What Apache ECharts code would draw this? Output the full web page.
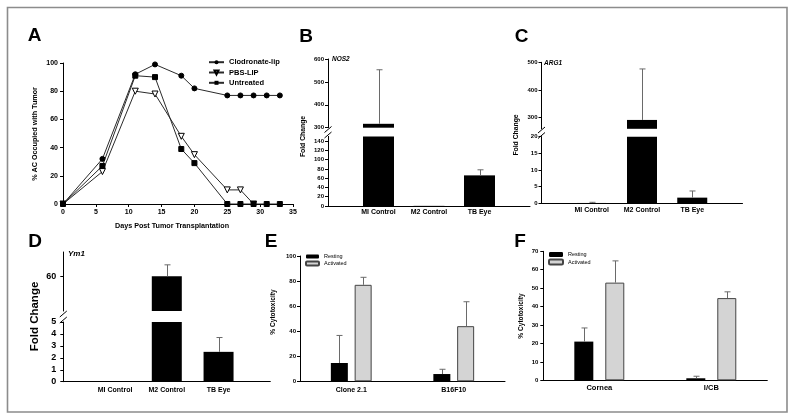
<!DOCTYPE html>
<html><head><meta charset="utf-8">
<script src="https://cdn.jsdelivr.net/npm/echarts@6/dist/echarts.min.js"></script>
<style>html,body{margin:0;padding:0;background:#fff}#c{width:795px;height:420px}</style>
</head><body><div id="c"></div>
<script>
// ---------- DATA ----------
// Panel A
const aDays = [0, 6, 11, 14, 18, 20, 25, 27, 29, 31, 33];
const aClodronate = [0, 32, 92, 99, 91, 82, 77, 77, 77, 77, 77];
const aPBS = [0, 23, 80, 78, 48, 35, 10, 10, 0, null, null];
const aUntreated = [0, 27, 91, 90, 39, 29, 0, 0, 0, 0, 0];
const aSeriesNames = ['Clodronate-lip', 'PBS-LIP', 'Untreated'];
// Panels B-D
const geneCategories = ['MI Control', 'M2 Control', 'TB Eye'];
const bNOS2 = [317, 0.3, 66];
const bNOS2Err = [236, 0, 12];
const cARG1 = [0.1, 292, 1.7];
const cARG1Err = [0.2, 184, 2.0];
const dYm1 = [0.02, 60, 2.5];
const dYm1Err = [0, 3.3, 1.2];
// Panel E
const eCategories = ['Clone 2.1', 'B16F10'];
const eResting = [14.6, 5.8];
const eRestingErr = [22, 3.8];
const eActivated = [77, 44];
const eActivatedErr = [6, 19.5];
// Panel F
const fCategories = ['Cornea', 'I/CB'];
const fResting = [21, 1.1];
const fRestingErr = [7.4, 1.1];
const fActivated = [53, 44.6];
const fActivatedErr = [11.8, 3.4];
// tick labels
const bUpperTicks = [300, 400, 500, 600];
const bLowerTicks = [0, 20, 40, 60, 80, 100, 120, 140];
const cUpperTicks = [300, 400, 500];
const dUpperTicks = [60];

// ---------- HELPERS ----------
const FONT = '"Liberation Sans", Arial, sans-serif';
const pad = a => [null, ...a, null];
const padC = a => ['', ...a, ''];

function yAxis(grid, o) {
  const ax = {
    type: 'value', gridIndex: grid, min: o.min, max: o.max,
    axisLine: {show: true, lineStyle: {color: '#000', width: 1}},
    axisTick: {show: true, length: 3, lineStyle: {color: '#000', width: 1}},
    axisLabel: {fontFamily: FONT, fontWeight: 'bold', fontSize: o.fs || 6, color: '#000', margin: o.margin || 4},
    splitLine: {show: false}
  };
  if (o.interval) ax.interval = o.interval;
  if (o.ticks) {
    ax.axisLabel.customValues = o.ticks;
    ax.axisTick.customValues = o.ticks;
    const t = o.ticks;
    ax.axisLabel.formatter = v => (t.indexOf(v) >= 0 ? String(v) : '');
  }
  return ax;
}
function catAxis(grid, cats, o) {
  return {
    type: 'category', gridIndex: grid, data: cats, boundaryGap: o.bg,
    show: o.show !== false,
    axisLine: {show: true, lineStyle: {color: '#000', width: 1}},
    axisTick: {show: false},
    axisLabel: {interval: 0, fontFamily: FONT, fontWeight: 'bold', fontSize: o.fs || 7, color: '#000', margin: o.margin || 4},
    splitLine: {show: false}
  };
}
function errSeries(grid, vals, errs, offset, idxShift) {
  return {
    type: 'custom', xAxisIndex: grid, yAxisIndex: grid, z: 10, silent: true,
    data: vals.map((v, i) => [i + idxShift, v, v + errs[i]]),
    encode: {x: 0, y: [1, 2]},
    renderItem(params, api) {
      const ci = api.value(0), lo = api.value(1), hi = api.value(2);
      if (!(hi > lo)) return null;
      const cs = params.coordSys;
      const top = cs.y, bot = cs.y + cs.height;
      const pLo = api.coord([ci, lo]), pHi = api.coord([ci, hi]);
      const x = Math.round(pLo[0] + offset) + 0.5;
      const y1 = pLo[1], y2 = pHi[1];
      if (y2 > bot || y1 < top) return null;
      const st = {stroke: '#6a6a6a', lineWidth: 1};
      const ch = [{type: 'line', shape: {x1: x, y1: Math.min(y1, bot), x2: x, y2: Math.max(y2, top)}, style: st}];
      if (y2 >= top) ch.push({type: 'line', shape: {x1: x - 3, y1: y2, x2: x + 3, y2: y2}, style: st});
      return {type: 'group', children: ch};
    }
  };
}
function barS(grid, name, vals, o) {
  return {
    type: 'bar', name: name, xAxisIndex: grid, yAxisIndex: grid, data: vals,
    barWidth: o.w, barGap: o.gap || '30%', clip: true, silent: true,
    itemStyle: {color: o.color || '#000', borderColor: o.border || o.color || '#000', borderWidth: o.bw || 0}
  };
}

// ---------- LAYOUT ----------
const G = [
  {left: 63, top: 63, width: 230, height: 141},        // 0 A
  {left: 328, top: 59, width: 202, height: 68.7},      // 1 B upper
  {left: 328, top: 136.4, width: 202, height: 69.6},   // 2 B lower
  {left: 541.5, top: 62.3, width: 201, height: 66.5},  // 3 C upper
  {left: 541.5, top: 136.7, width: 201, height: 66.6}, // 4 C lower
  {left: 63.3, top: 252, width: 207, height: 59},      // 5 D upper
  {left: 63.3, top: 322, width: 207, height: 59.7},    // 6 D lower
  {left: 300, top: 256, width: 205, height: 125.3},    // 7 E
  {left: 543.3, top: 251.3, width: 224, height: 129}   // 8 F
].map(g => Object.assign({containLabel: false, outerBoundsMode: 'none'}, g));

const gc = padC(geneCategories);

const xAxes = [
  {type: 'value', gridIndex: 0, min: 0, max: 35, interval: 5,
   axisLine: {lineStyle: {color: '#000'}}, axisTick: {length: 3, lineStyle: {color: '#000'}},
   axisLabel: {fontFamily: FONT, fontWeight: 'bold', fontSize: 7, color: '#000', margin: 5}, splitLine: {show: false}},
  catAxis(1, gc, {bg: false, show: false}),
  catAxis(2, gc, {bg: false, fs: 7, margin: 3}),
  catAxis(3, gc, {bg: false, show: false}),
  catAxis(4, gc, {bg: false, fs: 7, margin: 3}),
  catAxis(5, gc, {bg: false, show: false}),
  catAxis(6, gc, {bg: false, fs: 7, margin: 5}),
  catAxis(7, eCategories, {bg: true, fs: 7, margin: 5}),
  catAxis(8, fCategories, {bg: true, fs: 7.5, margin: 3.5})
];
const yAxes = [
  yAxis(0, {min: 0, max: 100, interval: 20, fs: 7, margin: 5}),
  yAxis(1, {min: 300, max: 600, interval: 100, fs: 6, ticks: bUpperTicks}),
  yAxis(2, {min: 0, max: 150, interval: 20, fs: 6, ticks: bLowerTicks}),
  yAxis(3, {min: 260, max: 500, interval: 20, fs: 6, ticks: cUpperTicks}),
  yAxis(4, {min: 0, max: 20, interval: 5, fs: 6}),
  yAxis(5, {min: 50, max: 67, interval: 1, fs: 9, margin: 7, ticks: dUpperTicks}),
  yAxis(6, {min: 0, max: 5, interval: 1, fs: 9, margin: 7}),
  yAxis(7, {min: 0, max: 100, interval: 20, fs: 6, margin: 4}),
  yAxis(8, {min: 0, max: 70, interval: 10, fs: 6, margin: 5})
];

const lineBase = {xAxisIndex: 0, yAxisIndex: 0, silent: true, lineStyle: {color: '#2a2a2a', width: 1}};
const series = [
  Object.assign({type: 'line', name: aSeriesNames[0], data: aDays.map((d, i) => [d, aClodronate[i]]),
    symbol: 'circle', symbolSize: 5, itemStyle: {color: '#000', borderColor: '#000'}}, lineBase),
  Object.assign({type: 'line', name: aSeriesNames[1], data: aDays.map((d, i) => [d, aPBS[i]]),
    symbol: 'triangle', symbolRotate: 180, symbolSize: 6, itemStyle: {color: '#fff', borderColor: '#000', borderWidth: 1}}, lineBase),
  Object.assign({type: 'line', name: aSeriesNames[2], data: aDays.map((d, i) => [d, aUntreated[i]]),
    symbol: 'rect', symbolSize: 5, itemStyle: {color: '#000', borderColor: '#000'}}, lineBase),
  // B
  barS(1, 'NOS2', pad(bNOS2), {w: 31}), barS(2, 'NOS2', pad(bNOS2), {w: 31}),
  errSeries(1, bNOS2, bNOS2Err, 0, 1), errSeries(2, bNOS2, bNOS2Err, 0, 1),
  // C
  barS(3, 'ARG1', pad(cARG1), {w: 30}), barS(4, 'ARG1', pad(cARG1), {w: 30}),
  errSeries(3, cARG1, cARG1Err, 0, 1), errSeries(4, cARG1, cARG1Err, 0, 1),
  // D
  barS(5, 'Ym1', pad(dYm1), {w: 30}), barS(6, 'Ym1', pad(dYm1), {w: 30}),
  errSeries(5, dYm1, dYm1Err, 0, 1), errSeries(6, dYm1, dYm1Err, 0, 1),
  // E
  barS(7, 'Resting', eResting, {w: 17, gap: '40%'}),
  barS(7, 'Activated', eActivated, {w: 17, gap: '40%', color: '#d4d4d4', border: '#444', bw: 1}),
  errSeries(7, eResting, eRestingErr, -(17 + 6.8) / 2, 0),
  errSeries(7, eActivated, eActivatedErr, (17 + 6.8) / 2, 0),
  // F
  barS(8, 'Resting', fResting, {w: 19, gap: '63%'}),
  barS(8, 'Activated', fActivated, {w: 19, gap: '63%', color: '#d4d4d4', border: '#444', bw: 1}),
  errSeries(8, fResting, fRestingErr, -(19 + 12) / 2, 0),
  errSeries(8, fActivated, fActivatedErr, (19 + 12) / 2, 0)
];

function txt(text, x, y, size, o) {
  o = o || {};
  return {type: 'text', x: x, y: y, rotation: o.rot || 0, silent: true, z: 100,
    style: {text: text, fill: '#000', font: (o.italic ? 'italic ' : '') + 'bold ' + size + 'px ' + FONT,
      align: o.align || 'center', verticalAlign: 'middle'}};
}
function slash(cx, cy) {
  return {type: 'line', silent: true, z: 100, shape: {x1: cx - 3.5, y1: cy + 3, x2: cx + 3.5, y2: cy - 3},
    style: {stroke: '#000', lineWidth: 1}};
}
const R = Math.PI / 2;
const graphic = [
  {type: 'rect', silent: true, shape: {x: 7.5, y: 7.5, width: 779.5, height: 404.5},
   style: {fill: 'none', stroke: '#8c8c8c', lineWidth: 1.6}},
  txt('A', 34.5, 35.5, 19), txt('B', 306, 37, 19), txt('C', 521.5, 37, 19),
  txt('D', 35, 241.5, 19), txt('E', 271, 241.5, 19), txt('F', 520, 241.5, 19),
  txt('Days Post Tumor Transplantation', 172, 226, 7.2),
  txt('% AC Occupied with Tumor', 35, 134, 7.2, {rot: R}),
  txt('Fold Change', 303.5, 136.5, 6.8, {rot: R}),
  txt('Fold Change', 516.5, 135, 6.8, {rot: R}),
  txt('Fold Change', 35, 316.5, 11.5, {rot: R}),
  txt('% Cytotoxicity', 273, 312, 6.6, {rot: R}),
  txt('% Cytotoxicity', 521.5, 316, 6.6, {rot: R}),
  txt('NOS2', 332, 59.5, 6.5, {italic: true, align: 'left'}),
  txt('ARG1', 544, 63, 6.5, {italic: true, align: 'left'}),
  txt('Ym1', 68, 254, 8, {italic: true, align: 'left'}),
  slash(328, 129.5), slash(328, 135),
  slash(541.5, 130), slash(541.5, 135.5),
  slash(63.3, 314), slash(63.3, 320)
];

const legendText = (fs, lh) => ({fontFamily: FONT, fontWeight: 'bold', fontSize: fs, color: '#000', lineHeight: lh});
const option = {
  animation: false,
  backgroundColor: '#fff',
  grid: G, xAxis: xAxes, yAxis: yAxes, series: series, graphic: graphic,
  legend: [
    {data: aSeriesNames, left: 208, top: 58.2, orient: 'vertical', itemWidth: 15, itemHeight: 5, itemGap: 2.3,
     padding: 0, selectedMode: false, textStyle: legendText(7.5, 7)},
    {data: ['Resting', 'Activated'], left: 305, top: 253.5, orient: 'vertical', itemWidth: 13, itemHeight: 4, itemGap: 1,
     padding: 0, selectedMode: false, textStyle: Object.assign(legendText(5.5, 6), {fontWeight: 'normal'})},
    {data: ['Resting', 'Activated'], left: 548, top: 251.5, orient: 'vertical', itemWidth: 14, itemHeight: 5, itemGap: 1,
     padding: 0, selectedMode: false, textStyle: Object.assign(legendText(5.5, 6), {fontWeight: 'normal'})}
  ]
};
const chart = echarts.init(document.getElementById('c'), null, {renderer: 'canvas', width: 795, height: 420});
chart.setOption(option);
</script>
</body></html>
